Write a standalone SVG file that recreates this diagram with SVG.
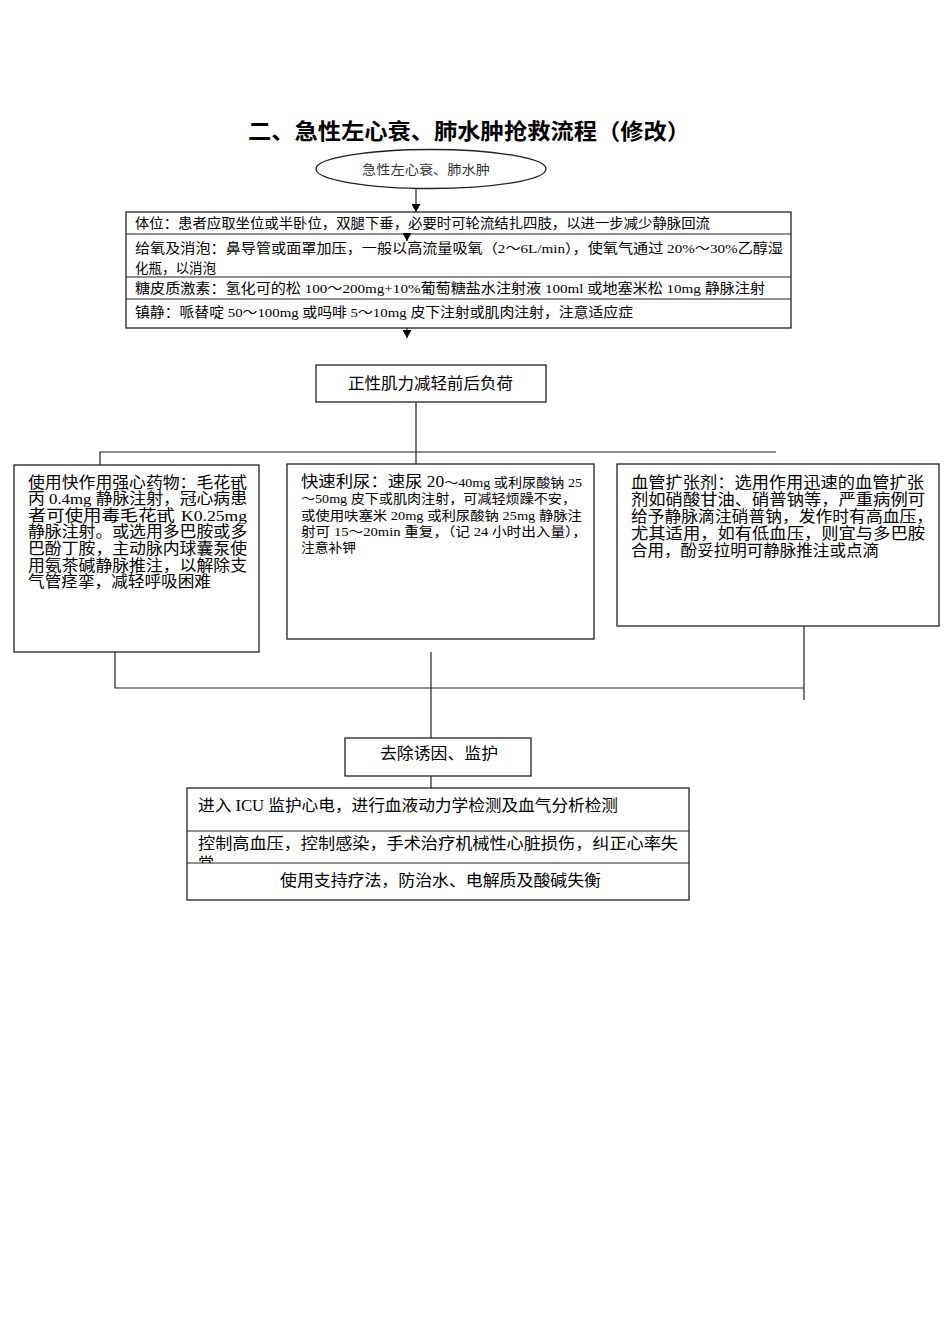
<svg xmlns="http://www.w3.org/2000/svg" width="950" height="1344" viewBox="0 0 950 1344">
<style>
.box{fill:#fff;stroke:#222;stroke-width:1.3}
.ln{stroke:#222;stroke-width:1.2;fill:none}
.t{font-family:"Liberation Serif","Noto Sans CJK SC",serif;fill:#000}
.s{font-family:"Noto Sans CJK SC",sans-serif;fill:#000}
</style>
<defs>
<marker id="ah" markerWidth="8" markerHeight="9" refX="8" refY="4.5" orient="auto" markerUnits="userSpaceOnUse">
<path d="M0,0 L8,4.5 L0,9 z" fill="#000"/>
</marker>
<clipPath id="clipRow2"><rect x="187" y="831" width="502" height="32"/></clipPath>
</defs>
<rect width="950" height="1344" fill="#fff"/>

<text class="s" x="248" y="139" font-size="22" font-weight="bold" textLength="442" lengthAdjust="spacingAndGlyphs">二、急性左心衰、肺水肿抢救流程（修改）</text>

<g id="n-start">
<ellipse cx="431" cy="169" rx="115" ry="19.5" class="box"/>
<text class="s" x="362" y="174" font-size="13" style="fill:#333" textLength="128" lengthAdjust="spacingAndGlyphs">急性左心衰、肺水肿</text>
</g>

<g id="n-measures">
<rect x="126" y="212" width="665" height="116" class="box"/>
<line class="ln" x1="126" y1="234" x2="791" y2="234"/>
<line class="ln" x1="126" y1="277" x2="791" y2="277"/>
<line class="ln" x1="126" y1="299" x2="791" y2="299"/>
<text class="t" x="135" y="228" font-size="13.5" textLength="575" lengthAdjust="spacingAndGlyphs">体位：患者应取坐位或半卧位，双腿下垂，必要时可轮流结扎四肢，以进一步减少静脉回流</text>
<text class="t" x="135" y="253" font-size="13.5" textLength="648" lengthAdjust="spacingAndGlyphs">给氧及消泡：鼻导管或面罩加压，一般以高流量吸氧（2～6L/min），使氧气通过 20%～30%乙醇湿</text>
<text class="t" x="135" y="273" font-size="13.5">化瓶，以消泡</text>
<text class="t" x="135" y="293" font-size="13.5" textLength="630" lengthAdjust="spacingAndGlyphs">糖皮质激素：氢化可的松 100～200mg+10%葡萄糖盐水注射液 100ml 或地塞米松 10mg 静脉注射</text>
<text class="t" x="135" y="317" font-size="13.5" textLength="498" lengthAdjust="spacingAndGlyphs">镇静：哌替啶 50～100mg 或吗啡 5～10mg 皮下注射或肌肉注射，注意适应症</text>
</g>

<g id="n-inotrope">
<rect x="316" y="365" width="230" height="37" class="box"/>
<text class="t" x="348" y="389" font-size="16" textLength="165" lengthAdjust="spacingAndGlyphs">正性肌力减轻前后负荷</text>
</g>

<g id="n-cardiac">
<rect x="14" y="465" width="245" height="187" class="box"/>
<text class="t" x="28" y="488" font-size="15.5" textLength="219" lengthAdjust="spacingAndGlyphs">使用快作用强心药物：毛花甙</text>
<text class="t" x="28" y="504" font-size="15.5" textLength="219" lengthAdjust="spacingAndGlyphs">丙 0.4mg 静脉注射，冠心病患</text>
<text class="t" x="28" y="521" font-size="15.5" textLength="147" lengthAdjust="spacingAndGlyphs">者可使用毒毛花甙</text>
<text class="t" x="181" y="521" font-size="15.5" textLength="66" lengthAdjust="spacingAndGlyphs">K0.25mg</text>
<text class="t" x="28" y="537" font-size="15.5" textLength="219" lengthAdjust="spacingAndGlyphs">静脉注射。或选用多巴胺或多</text>
<text class="t" x="28" y="554" font-size="15.5" textLength="219" lengthAdjust="spacingAndGlyphs">巴酚丁胺，主动脉内球囊泵使</text>
<text class="t" x="28" y="571" font-size="15.5" textLength="219" lengthAdjust="spacingAndGlyphs">用氨茶碱静脉推注，以解除支</text>
<text class="t" x="28" y="587" font-size="15.5" textLength="183" lengthAdjust="spacingAndGlyphs">气管痉挛，减轻呼吸困难</text>
</g>

<g id="n-diuretic">
<rect x="287" y="464" width="307" height="175" class="box"/>
<text class="t" x="301" y="487" textLength="281" lengthAdjust="spacingAndGlyphs"><tspan font-size="16">快速利尿：速尿 20</tspan><tspan font-size="13">～40mg 或利尿酸钠 25</tspan></text>
<text class="t" x="301" y="503" font-size="13" textLength="275" lengthAdjust="spacingAndGlyphs">～50mg 皮下或肌肉注射，可减轻烦躁不安，</text>
<text class="t" x="301" y="520" font-size="13" textLength="281" lengthAdjust="spacingAndGlyphs">或使用呋塞米 20mg 或利尿酸钠 25mg 静脉注</text>
<text class="t" x="301" y="536" font-size="13" textLength="286" lengthAdjust="spacingAndGlyphs">射可 15～20min 重复，（记 24 小时出入量），</text>
<text class="t" x="301" y="552" font-size="13" textLength="55" lengthAdjust="spacingAndGlyphs">注意补钾</text>
</g>

<g id="n-vasodilator">
<rect x="617" y="464" width="322" height="162" class="box"/>
<text class="t" x="631" y="488" font-size="16" textLength="293" lengthAdjust="spacingAndGlyphs">血管扩张剂：选用作用迅速的血管扩张</text>
<text class="t" x="631" y="505" font-size="16" textLength="294" lengthAdjust="spacingAndGlyphs">剂如硝酸甘油、硝普钠等，严重病例可</text>
<text class="t" x="631" y="522" font-size="16" textLength="302" lengthAdjust="spacingAndGlyphs">给予静脉滴注硝普钠，发作时有高血压，</text>
<text class="t" x="631" y="539" font-size="16" textLength="294" lengthAdjust="spacingAndGlyphs">尤其适用，如有低血压，则宜与多巴胺</text>
<text class="t" x="631" y="556" font-size="16" textLength="248" lengthAdjust="spacingAndGlyphs">合用，酚妥拉明可静脉推注或点滴</text>
</g>

<g id="n-remove">
<rect x="345" y="738" width="186" height="38" class="box"/>
<text class="t" x="380" y="759" font-size="16" textLength="118" lengthAdjust="spacingAndGlyphs">去除诱因、监护</text>
</g>

<g id="n-monitor">
<rect x="187" y="788" width="502" height="112" class="box"/>
<line class="ln" x1="187" y1="831" x2="689" y2="831"/>
<line class="ln" x1="187" y1="863" x2="689" y2="863"/>
<text class="t" x="198" y="811" font-size="16" textLength="420" lengthAdjust="spacingAndGlyphs">进入 ICU 监护心电，进行血液动力学检测及血气分析检测</text>
<g clip-path="url(#clipRow2)">
<text class="t" x="198" y="849" font-size="16" textLength="480" lengthAdjust="spacingAndGlyphs">控制高血压，控制感染，手术治疗机械性心脏损伤，纠正心率失</text>
<text class="t" x="198" y="869" font-size="16">常</text>
</g>
<text class="t" x="280" y="886" font-size="16" textLength="321" lengthAdjust="spacingAndGlyphs">使用支持疗法，防治水、电解质及酸碱失衡</text>
</g>

<g id="connectors">
<line class="ln" x1="416" y1="189" x2="416" y2="212" marker-end="url(#ah)"/>
<line class="ln" x1="407" y1="233" x2="407" y2="241" marker-end="url(#ah)"/>
<line class="ln" x1="407" y1="328" x2="407" y2="338" marker-end="url(#ah)"/>
<line class="ln" x1="416" y1="402" x2="416" y2="464"/>
<polyline class="ln" points="100,465 100,452 776,452"/>
<polyline class="ln" points="115,652 115,688 804,688"/>
<line class="ln" x1="804" y1="626" x2="804" y2="700"/>
<line class="ln" x1="431" y1="652" x2="431" y2="738"/>
<line class="ln" x1="431" y1="776" x2="431" y2="788"/>
</g>
</svg>
